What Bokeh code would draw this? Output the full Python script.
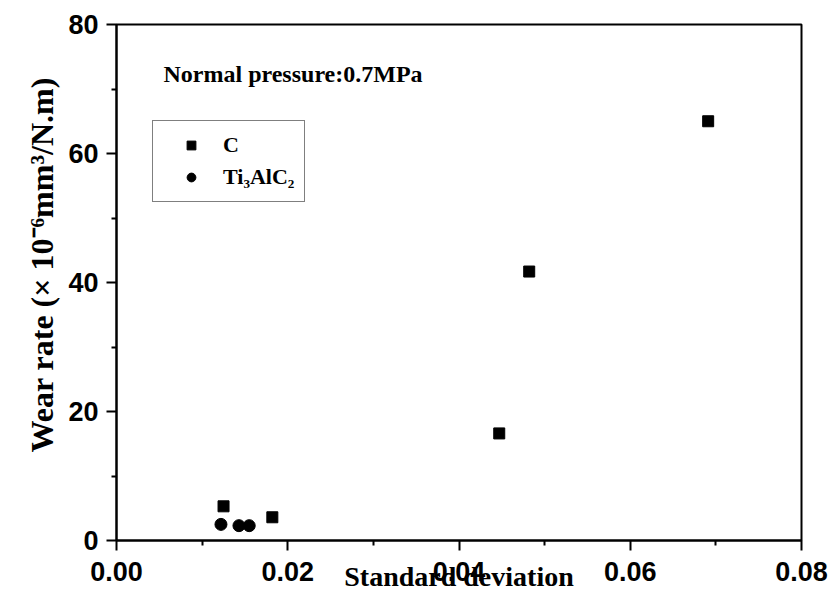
from bokeh.plotting import figure
from bokeh.models import (Range1d, Label, Legend, LegendItem, NumeralTickFormatter,
                          FixedTicker, Title)
from bokeh.embed import file_html
from bokeh.resources import INLINE

# ---- data ----
c_std = [0.0125, 0.0182, 0.0447, 0.0482, 0.0691]
c_wear = [5.3, 3.6, 16.6, 41.7, 65.0]
ti_std = [0.0122, 0.0143, 0.0155]
ti_wear = [2.5, 2.3, 2.3]
x_ticks = [0.0, 0.02, 0.04, 0.06, 0.08]
y_ticks = [0, 20, 40, 60, 80]
series_names = ["C", "Ti\u2083AlC\u2082"]
x_title = "Standard deviation"
y_title = "Wear rate (\u00d7 10\u207b\u2076mm\u00b3/N.m)"
note = "Normal pressure:0.7MPa"

SERIF = "Liberation Serif"
SANS = "Liberation Sans"

p = figure(width=834, height=604, output_backend="svg", toolbar_location=None,
           x_range=Range1d(0, 0.08), y_range=Range1d(0, 80),
           min_border_left=116, min_border_right=33, min_border_top=24,
           min_border_bottom=64)
p.background_fill_color = "white"
p.border_fill_color = "white"
p.outline_line_color = "black"
p.outline_line_width = 2
p.xgrid.visible = False
p.ygrid.visible = False

for ax in (p.xaxis[0], p.yaxis[0]):
    ax.axis_line_color = "black"
    ax.axis_line_width = 2
    ax.major_tick_line_color = "black"
    ax.major_tick_line_width = 2
    ax.minor_tick_line_color = "black"
    ax.minor_tick_line_width = 2
    ax.major_tick_out = 10
    ax.major_tick_in = 0
    ax.minor_tick_out = 5
    ax.minor_tick_in = 0
    ax.major_label_text_font = SANS
    ax.major_label_text_font_style = "bold"
    ax.major_label_text_font_size = "27px"
    ax.major_label_text_color = "black"
    ax.axis_label_text_font = SERIF
    ax.axis_label_text_font_style = "bold"
    ax.axis_label_text_color = "black"

p.xaxis[0].ticker = FixedTicker(ticks=x_ticks, minor_ticks=[0.01, 0.03, 0.05, 0.07])
p.yaxis[0].ticker = FixedTicker(ticks=y_ticks, minor_ticks=[10, 30, 50, 70])
p.xaxis[0].formatter = NumeralTickFormatter(format="0.00")
p.yaxis[0].formatter = NumeralTickFormatter(format="0")
p.xaxis[0].major_label_standoff = 11
p.yaxis[0].major_label_standoff = 8

p.xaxis[0].axis_label = x_title
p.xaxis[0].axis_label_text_font_size = "28px"
p.xaxis[0].axis_label_standoff = -23

# y axis title placed as a side title so that it can be offset along the axis
ytitle = Title(text=y_title, align="left", offset=88, standoff=11,
               text_font=SERIF, text_font_style="bold", text_font_size="32px",
               text_color="black")
p.add_layout(ytitle, "left")

sq = p.scatter(c_std, c_wear, marker="square", size=11, color="black")
ci = p.scatter(ti_std, ti_wear, marker="circle", size=12, color="black")

legend = Legend(items=[LegendItem(label=series_names[0], renderers=[sq]),
                       LegendItem(label=series_names[1], renderers=[ci])],
                location=(36, 338))
legend.border_line_color = "black"
legend.border_line_width = 1.5
legend.background_fill_color = "white"
legend.background_fill_alpha = 1
legend.label_text_font = SERIF
legend.label_text_font_style = "bold"
legend.label_text_font_size = "22px"
legend.label_text_color = "black"
legend.padding = 10
legend.spacing = 4
legend.glyph_width = 56
legend.glyph_height = 22
legend.label_height = 28
legend.label_standoff = 4
p.add_layout(legend, "center")

p.add_layout(Label(x=47, y=467, x_units="screen", y_units="screen",
                   text=note, text_font=SERIF,
                   text_font_style="bold", text_font_size="24px",
                   text_color="black", text_baseline="alphabetic"))

open("out.html", "w").write(file_html(p, INLINE))
